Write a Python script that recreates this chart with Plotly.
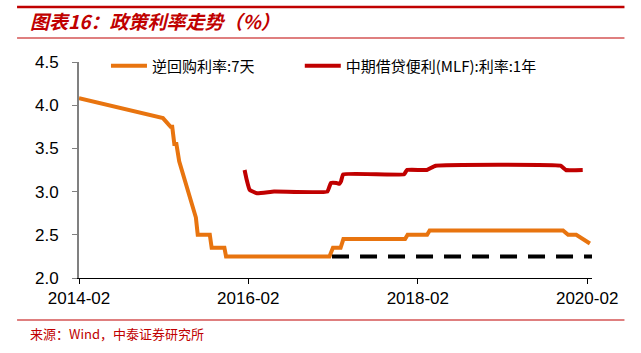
import plotly.graph_objects as go

# ---- data ----
repo_dates = ["2014-02-01", "2015-01-29", "2015-03-03", "2015-03-10", "2015-03-19", "2015-03-28",
              "2015-04-09", "2015-06-20", "2015-06-28", "2015-08-19", "2015-08-27", "2015-10-21",
              "2015-10-28", "2017-01-16", "2017-01-31", "2017-03-05", "2017-03-17", "2017-12-08",
              "2017-12-19", "2018-03-13", "2018-03-24", "2019-10-20", "2019-11-11", "2019-12-16",
              "2020-02-13"]
repo_vals = [4.08, 3.85, 3.75, 3.75, 3.55, 3.55,
             3.35, 2.70, 2.50, 2.50, 2.35, 2.35,
             2.25, 2.25, 2.35, 2.35, 2.45, 2.45,
             2.50, 2.50, 2.55, 2.55, 2.50, 2.50,
             2.40]

mlf_dates = ["2016-01-16", "2016-01-24", "2016-02-07", "2016-03-10", "2016-05-22", "2017-01-07",
             "2017-01-22", "2017-02-15", "2017-02-28", "2017-03-07", "2017-03-16", "2017-12-04",
             "2017-12-16", "2018-03-12", "2018-04-19", "2019-10-09", "2019-11-01", "2020-01-13"]
mlf_vals = [3.25, 3.15, 3.02, 2.98, 3.00, 3.00,
            3.10, 3.10, 3.09, 3.12, 3.20, 3.20,
            3.25, 3.25, 3.30, 3.30, 3.25, 3.25]

ref_dates = ["2017-01-27", "2020-02-22"]
ref_vals = [2.25, 2.25]

tick_vals = ["2014-02-01", "2016-02-01", "2018-02-01", "2020-02-01"]
tick_text = ["2014-02", "2016-02", "2018-02", "2020-02"]
y_ticks = [2.0, 2.5, 3.0, 3.5, 4.0, 4.5]

title_text = "图表16：政策利率走势（%）"
source_text = "来源：Wind，中泰证券研究所"
name_repo = "逆回购利率:7天"
name_mlf = "中期借贷便利(MLF):利率:1年"

# ---- layout constants (pixels) ----
W, H = 641, 353
L, R, T, B = 79, 592.5, 62, 278
pw, ph = R - L, B - T


def px(x):
    return (x - L) / pw


def py(y):
    return (B - y) / ph


ORANGE = "#E8740F"
RED = "#C00000"
CJK = "Noto Sans CJK SC"

fig = go.Figure()
fig.add_trace(go.Scatter(x=repo_dates, y=repo_vals, mode="lines", name=name_repo,
                         line=dict(color=ORANGE, width=4), legend="legend"))
fig.add_trace(go.Scatter(x=mlf_dates, y=mlf_vals, mode="lines", name=name_mlf,
                         line=dict(color=RED, width=4, shape="spline", smoothing=0.3),
                         legend="legend2"))
fig.add_trace(go.Scatter(x=ref_dates, y=ref_vals, mode="lines", showlegend=False,
                         line=dict(color="black", width=4, dash="17px,11px")))

legend_common = dict(orientation="h", yanchor="middle", xanchor="left",
                     font=dict(family=CJK, size=15, color="black"),
                     bgcolor="rgba(0,0,0,0)", itemwidth=36)

fig.update_layout(
    width=W, height=H,
    margin=dict(l=L, r=W - R, t=T, b=H - B),
    plot_bgcolor="white", paper_bgcolor="white",
    showlegend=True,
    legend=dict(x=px(106), y=py(66), **legend_common),
    legend2=dict(x=px(300), y=py(66), **legend_common),
    xaxis=dict(range=["2014-02-01", "2020-02-22"], type="date",
               tickvals=tick_vals, ticktext=tick_text,
               showgrid=False, zeroline=False,
               showline=True, linecolor="black", linewidth=1,
               ticks="outside", ticklen=5, tickcolor="black", tickwidth=1,
               tickfont=dict(family="Liberation Sans, Arial", size=17, color="black")),
    yaxis=dict(range=[2.0, 4.5], tickvals=y_ticks, tickformat=".1f",
               showgrid=False, zeroline=False,
               showline=True, linecolor="#808080", linewidth=2,
               ticks="outside", ticklen=5, tickcolor="#808080", tickwidth=1,
               ticklabelstandoff=10,
               tickfont=dict(family="Liberation Sans, Arial", size=17, color="black")),
    shapes=[
        dict(type="line", xref="paper", yref="paper", x0=px(17), x1=px(625), y0=py(7), y1=py(7),
             line=dict(color=RED, width=2.5)),
        dict(type="line", xref="paper", yref="paper", x0=px(17), x1=px(625), y0=py(38), y1=py(38),
             line=dict(color=RED, width=1.2)),
        dict(type="line", xref="paper", yref="paper", x0=px(17), x1=px(625), y0=py(320), y1=py(320),
             line=dict(color=RED, width=1.2)),
    ],
    annotations=[
        dict(text="<b><i>" + title_text + "</i></b>", xref="paper", yref="paper",
             x=px(28), y=py(21), xanchor="left", yanchor="middle", showarrow=False,
             font=dict(family=CJK, size=19, color=RED)),
        dict(text=source_text, xref="paper", yref="paper",
             x=px(28), y=py(333), xanchor="left", yanchor="middle", showarrow=False,
             font=dict(family=CJK, size=13, color=RED)),
    ],
)

fig.write_html("out.html")
